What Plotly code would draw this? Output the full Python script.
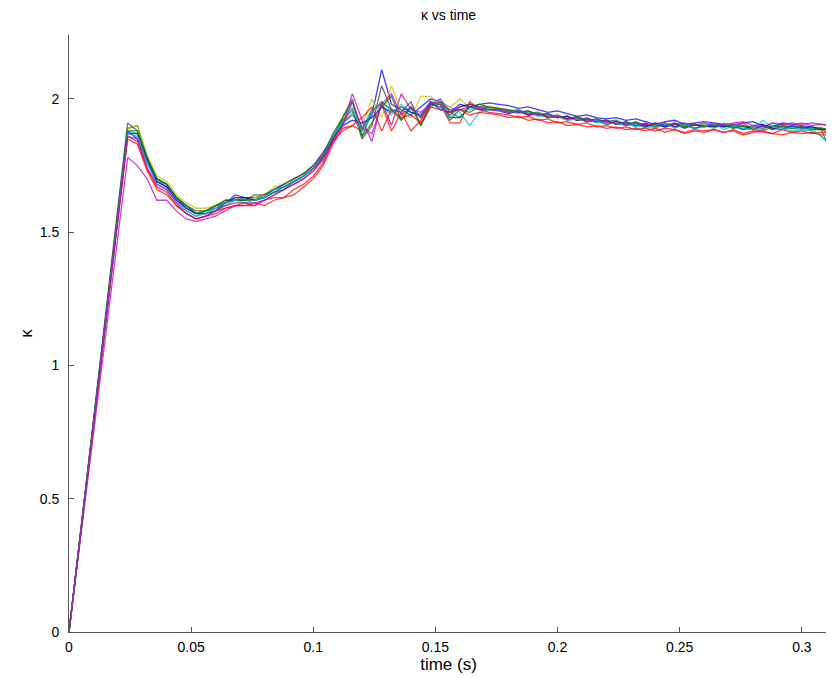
import plotly.graph_objects as go

time_s = [
    0, 0.024, 0.028, 0.032, 0.036, 0.040, 0.044, 0.048, 0.052, 0.056,
    0.060, 0.064, 0.068, 0.072, 0.076, 0.080, 0.084, 0.088, 0.092, 0.096,
    0.100, 0.104, 0.108, 0.112, 0.116, 0.120, 0.124, 0.128, 0.132, 0.136,
    0.140, 0.144, 0.148, 0.152, 0.156, 0.160, 0.164, 0.168, 0.172, 0.176,
    0.180, 0.184, 0.188, 0.192, 0.196, 0.200, 0.204, 0.208, 0.212, 0.216,
    0.220, 0.224, 0.228, 0.232, 0.236, 0.240, 0.244, 0.248, 0.252, 0.256,
    0.260, 0.264, 0.268, 0.272, 0.276, 0.280, 0.284, 0.288, 0.292, 0.296,
    0.300, 0.304, 0.308, 0.312,
]

kappa_run01 = [
    0, 1.88, 1.85, 1.76, 1.69, 1.67, 1.63, 1.59, 1.57, 1.58,
    1.59, 1.61, 1.64, 1.63, 1.63, 1.64, 1.66, 1.68, 1.70, 1.72,
    1.75, 1.80, 1.86, 1.91, 1.94, 1.89, 1.94, 2.11, 1.98, 1.96,
    1.94, 1.97, 2.00, 1.99, 1.93, 1.93, 1.97, 1.98, 1.985, 1.98,
    1.975, 1.965, 1.97, 1.96, 1.95, 1.955, 1.945, 1.935, 1.94, 1.93,
    1.925, 1.93, 1.92, 1.925, 1.915, 1.905, 1.915, 1.92, 1.905, 1.91,
    1.915, 1.91, 1.905, 1.895, 1.91, 1.915, 1.90, 1.895, 1.91, 1.905,
    1.90, 1.895, 1.89, 1.86,
]
kappa_run02 = [
    0, 1.89, 1.90, 1.78, 1.70, 1.68, 1.63, 1.60, 1.57, 1.57,
    1.59, 1.62, 1.62, 1.63, 1.62, 1.64, 1.66, 1.67, 1.69, 1.71,
    1.74, 1.79, 1.87, 1.93, 2.00, 1.86, 1.95, 1.99, 1.96, 1.92,
    1.97, 1.93, 1.98, 1.98, 1.92, 1.96, 1.95, 1.97, 1.965, 1.96,
    1.95, 1.955, 1.94, 1.945, 1.935, 1.93, 1.935, 1.92, 1.925, 1.915,
    1.92, 1.905, 1.915, 1.90, 1.905, 1.90, 1.895, 1.91, 1.895, 1.905,
    1.90, 1.895, 1.90, 1.905, 1.895, 1.89, 1.90, 1.885, 1.90, 1.895,
    1.895, 1.89, 1.885, 1.80,
]
kappa_run03 = [
    0, 1.86, 1.84, 1.74, 1.67, 1.65, 1.60, 1.57, 1.55, 1.56,
    1.58, 1.59, 1.60, 1.61, 1.60, 1.62, 1.63, 1.63, 1.66, 1.68,
    1.71, 1.76, 1.84, 1.88, 1.90, 1.88, 1.96, 1.98, 1.88, 1.95,
    1.88, 1.92, 1.98, 1.98, 1.91, 1.91, 1.99, 1.96, 1.95, 1.945,
    1.94, 1.93, 1.935, 1.92, 1.925, 1.91, 1.915, 1.905, 1.91, 1.895,
    1.90, 1.89, 1.895, 1.885, 1.89, 1.88, 1.89, 1.885, 1.875, 1.885,
    1.88, 1.885, 1.875, 1.885, 1.87, 1.88, 1.875, 1.87, 1.885, 1.875,
    1.88, 1.87, 1.875, 1.87,
]
kappa_run04 = [
    0, 1.88, 1.87, 1.77, 1.69, 1.68, 1.62, 1.58, 1.56, 1.58,
    1.59, 1.60, 1.62, 1.62, 1.63, 1.63, 1.66, 1.67, 1.69, 1.71,
    1.74, 1.78, 1.85, 1.91, 1.95, 1.89, 1.96, 1.97, 1.94, 1.98,
    1.95, 1.94, 1.98, 1.99, 1.97, 1.95, 1.90, 1.95, 1.96, 1.96,
    1.955, 1.945, 1.95, 1.935, 1.94, 1.93, 1.935, 1.92, 1.925, 1.91,
    1.92, 1.905, 1.91, 1.895, 1.905, 1.89, 1.905, 1.895, 1.90, 1.89,
    1.90, 1.89, 1.91, 1.895, 1.885, 1.89, 1.885, 1.91, 1.89, 1.88,
    1.885, 1.88, 1.86, 1.83,
]
kappa_run05 = [
    0, 1.78, 1.75, 1.70, 1.62, 1.62, 1.58, 1.55, 1.54, 1.55,
    1.56, 1.58, 1.60, 1.60, 1.60, 1.62, 1.64, 1.66, 1.68, 1.70,
    1.73, 1.77, 1.84, 1.90, 2.02, 1.92, 1.84, 1.99, 1.90, 2.02,
    1.96, 1.95, 1.98, 2.00, 1.95, 1.97, 1.98, 1.97, 1.965, 1.96,
    1.955, 1.95, 1.955, 1.94, 1.945, 1.93, 1.935, 1.92, 1.93, 1.915,
    1.92, 1.905, 1.91, 1.90, 1.905, 1.90, 1.91, 1.895, 1.905, 1.89,
    1.90, 1.91, 1.895, 1.905, 1.91, 1.885, 1.88, 1.895, 1.905, 1.91,
    1.905, 1.91, 1.905, 1.90,
]
kappa_run06 = [
    0, 1.89, 1.90, 1.79, 1.71, 1.69, 1.64, 1.61, 1.59, 1.59,
    1.60, 1.62, 1.63, 1.62, 1.63, 1.64, 1.67, 1.68, 1.70, 1.72,
    1.75, 1.79, 1.86, 1.92, 1.94, 1.90, 2.00, 1.93, 2.05, 1.95,
    1.93, 2.01, 2.01, 1.98, 1.97, 2.00, 1.97, 1.96, 1.965, 1.96,
    1.95, 1.955, 1.94, 1.945, 1.93, 1.935, 1.92, 1.925, 1.915, 1.92,
    1.905, 1.915, 1.90, 1.91, 1.895, 1.905, 1.90, 1.91, 1.895, 1.90,
    1.905, 1.89, 1.905, 1.89, 1.905, 1.89, 1.895, 1.885, 1.895, 1.89,
    1.885, 1.89, 1.88, 1.88,
]
kappa_run07 = [
    0, 1.91, 1.88, 1.78, 1.70, 1.68, 1.63, 1.60, 1.58, 1.58,
    1.60, 1.62, 1.62, 1.62, 1.64, 1.64, 1.66, 1.68, 1.70, 1.72,
    1.75, 1.79, 1.86, 1.92, 1.96, 1.85, 1.90, 2.05, 1.96, 1.95,
    1.99, 1.90, 1.98, 1.97, 1.94, 1.97, 1.98, 1.97, 1.97, 1.965,
    1.96, 1.95, 1.955, 1.94, 1.945, 1.93, 1.935, 1.92, 1.925, 1.915,
    1.92, 1.905, 1.915, 1.90, 1.91, 1.895, 1.91, 1.895, 1.905, 1.89,
    1.90, 1.895, 1.90, 1.89, 1.90, 1.885, 1.90, 1.885, 1.90, 1.89,
    1.895, 1.885, 1.89, 1.885,
]
kappa_run08 = [
    0, 1.87, 1.87, 1.77, 1.69, 1.67, 1.62, 1.59, 1.57, 1.57,
    1.58, 1.61, 1.63, 1.63, 1.62, 1.63, 1.65, 1.67, 1.69, 1.71,
    1.74, 1.78, 1.85, 1.90, 1.92, 1.91, 1.93, 1.97, 1.95, 1.97,
    1.95, 1.94, 1.99, 1.96, 1.95, 1.98, 1.97, 1.96, 1.96, 1.955,
    1.945, 1.955, 1.94, 1.945, 1.93, 1.935, 1.925, 1.93, 1.915, 1.92,
    1.905, 1.915, 1.90, 1.91, 1.895, 1.91, 1.895, 1.905, 1.89, 1.905,
    1.895, 1.90, 1.895, 1.90, 1.885, 1.90, 1.905, 1.89, 1.885, 1.90,
    1.89, 1.895, 1.885, 1.885,
]
kappa_run09 = [
    0, 1.88, 1.88, 1.77, 1.70, 1.68, 1.63, 1.60, 1.57, 1.58,
    1.60, 1.61, 1.62, 1.62, 1.62, 1.63, 1.65, 1.66, 1.69, 1.71,
    1.74, 1.78, 1.85, 1.93, 1.99, 1.86, 1.91, 1.97, 2.01, 1.92,
    1.97, 1.90, 1.97, 1.99, 1.95, 1.93, 1.97, 1.98, 1.97, 1.965,
    1.955, 1.96, 1.945, 1.95, 1.935, 1.94, 1.925, 1.935, 1.92, 1.925,
    1.915, 1.92, 1.905, 1.915, 1.90, 1.905, 1.90, 1.91, 1.895, 1.905,
    1.895, 1.905, 1.90, 1.895, 1.90, 1.895, 1.89, 1.90, 1.895, 1.89,
    1.895, 1.885, 1.89, 1.88,
]
kappa_run10 = [
    0, 1.85, 1.83, 1.73, 1.66, 1.64, 1.60, 1.57, 1.55, 1.56,
    1.57, 1.59, 1.60, 1.60, 1.61, 1.60, 1.62, 1.63, 1.64, 1.67,
    1.70, 1.75, 1.83, 1.89, 1.90, 1.93, 1.97, 1.88, 1.96, 1.93,
    1.94, 1.91, 1.97, 1.96, 1.95, 1.96, 1.94, 1.95, 1.945, 1.94,
    1.93, 1.935, 1.92, 1.925, 1.91, 1.915, 1.90, 1.905, 1.895, 1.90,
    1.89, 1.895, 1.885, 1.89, 1.88, 1.89, 1.875, 1.885, 1.87, 1.88,
    1.875, 1.885, 1.875, 1.88, 1.865, 1.875, 1.88, 1.87, 1.865, 1.875,
    1.87, 1.875, 1.865, 1.865,
]
kappa_run11 = [
    0, 1.87, 1.86, 1.76, 1.68, 1.66, 1.61, 1.58, 1.56, 1.57,
    1.59, 1.61, 1.62, 1.61, 1.62, 1.63, 1.66, 1.67, 1.69, 1.71,
    1.74, 1.78, 1.86, 1.91, 1.97, 1.88, 1.95, 1.99, 1.95, 1.97,
    1.96, 1.94, 1.99, 1.97, 1.93, 1.96, 1.96, 1.97, 1.96, 1.96,
    1.95, 1.955, 1.94, 1.945, 1.93, 1.935, 1.92, 1.925, 1.915, 1.92,
    1.905, 1.91, 1.90, 1.905, 1.89, 1.90, 1.91, 1.89, 1.905, 1.89,
    1.895, 1.91, 1.885, 1.90, 1.89, 1.885, 1.92, 1.895, 1.885, 1.895,
    1.885, 1.89, 1.86, 1.82,
]
kappa_run12 = [
    0, 1.86, 1.85, 1.74, 1.68, 1.66, 1.61, 1.57, 1.55, 1.56,
    1.58, 1.60, 1.61, 1.61, 1.61, 1.62, 1.64, 1.66, 1.68, 1.70,
    1.73, 1.78, 1.85, 1.90, 1.99, 1.89, 1.87, 1.98, 2.02, 1.94,
    1.97, 1.93, 1.99, 1.98, 1.96, 1.96, 1.97, 1.965, 1.96, 1.96,
    1.95, 1.955, 1.94, 1.945, 1.93, 1.935, 1.925, 1.93, 1.915, 1.925,
    1.91, 1.915, 1.905, 1.91, 1.90, 1.91, 1.90, 1.905, 1.91, 1.90,
    1.91, 1.90, 1.905, 1.91, 1.915, 1.90, 1.895, 1.91, 1.905, 1.90,
    1.91, 1.90, 1.905, 1.90,
]

runs = [kappa_run01, kappa_run02, kappa_run03, kappa_run04, kappa_run05, kappa_run06,
        kappa_run07, kappa_run08, kappa_run09, kappa_run10, kappa_run11, kappa_run12]
colors = ["#0000ff", "#008000", "#ff0000", "#00bfbf", "#bf00bf", "#bfbf00", "#404040",
          "#0000ff", "#008000", "#ff0000", "#00bfbf", "#bf00bf"]

x_ticks = [0, 0.05, 0.1, 0.15, 0.2, 0.25, 0.3]
x_ticklabels = ["0", "0.05", "0.1", "0.15", "0.2", "0.25", "0.3"]
y_ticks = [0, 0.5, 1, 1.5, 2]
y_ticklabels = ["0", "0.5", "1", "1.5", "2"]

fig = go.Figure()
for y, c in zip(runs, colors):
    fig.add_trace(go.Scatter(x=time_s, y=y, mode="lines",
                             line=dict(color=c, width=1.3), opacity=0.75,
                             showlegend=False, hoverinfo="skip"))

# the page body adds an 8 px offset, margins compensate for it
font = dict(family="Liberation Sans, Arial, sans-serif", size=14, color="#000000")
fig.update_layout(
    width=834, height=678,
    margin=dict(l=61, r=14, t=27, b=54),
    paper_bgcolor="white", plot_bgcolor="white",
    font=font,
    title=dict(text="κ vs time", x=0.5, xref="paper", xanchor="center",
               y=1 - 7 / 678, yref="container", yanchor="middle",
               font=dict(family="Liberation Sans, Arial, sans-serif", size=14, color="#000")),
    showlegend=False,
)
fig.update_xaxes(range=[0, 0.3107], tickvals=x_ticks, ticktext=x_ticklabels,
                 ticks="inside", ticklen=5, tickcolor="#555", showline=True,
                 linecolor="#555", linewidth=1, showgrid=False, zeroline=False,
                 automargin=False, ticklabelstandoff=2,
                 title=dict(text="time (s)", standoff=0), tickfont=font)
fig.update_yaxes(range=[0, 2.24], tickvals=y_ticks, ticktext=y_ticklabels,
                 ticks="inside", ticklen=5, tickcolor="#555", showline=True,
                 linecolor="#555", linewidth=1, showgrid=False, zeroline=False,
                 automargin=False, ticklabelstandoff=6,
                 title=dict(text="κ", standoff=2), tickfont=font)

fig.write_html("out.html")
